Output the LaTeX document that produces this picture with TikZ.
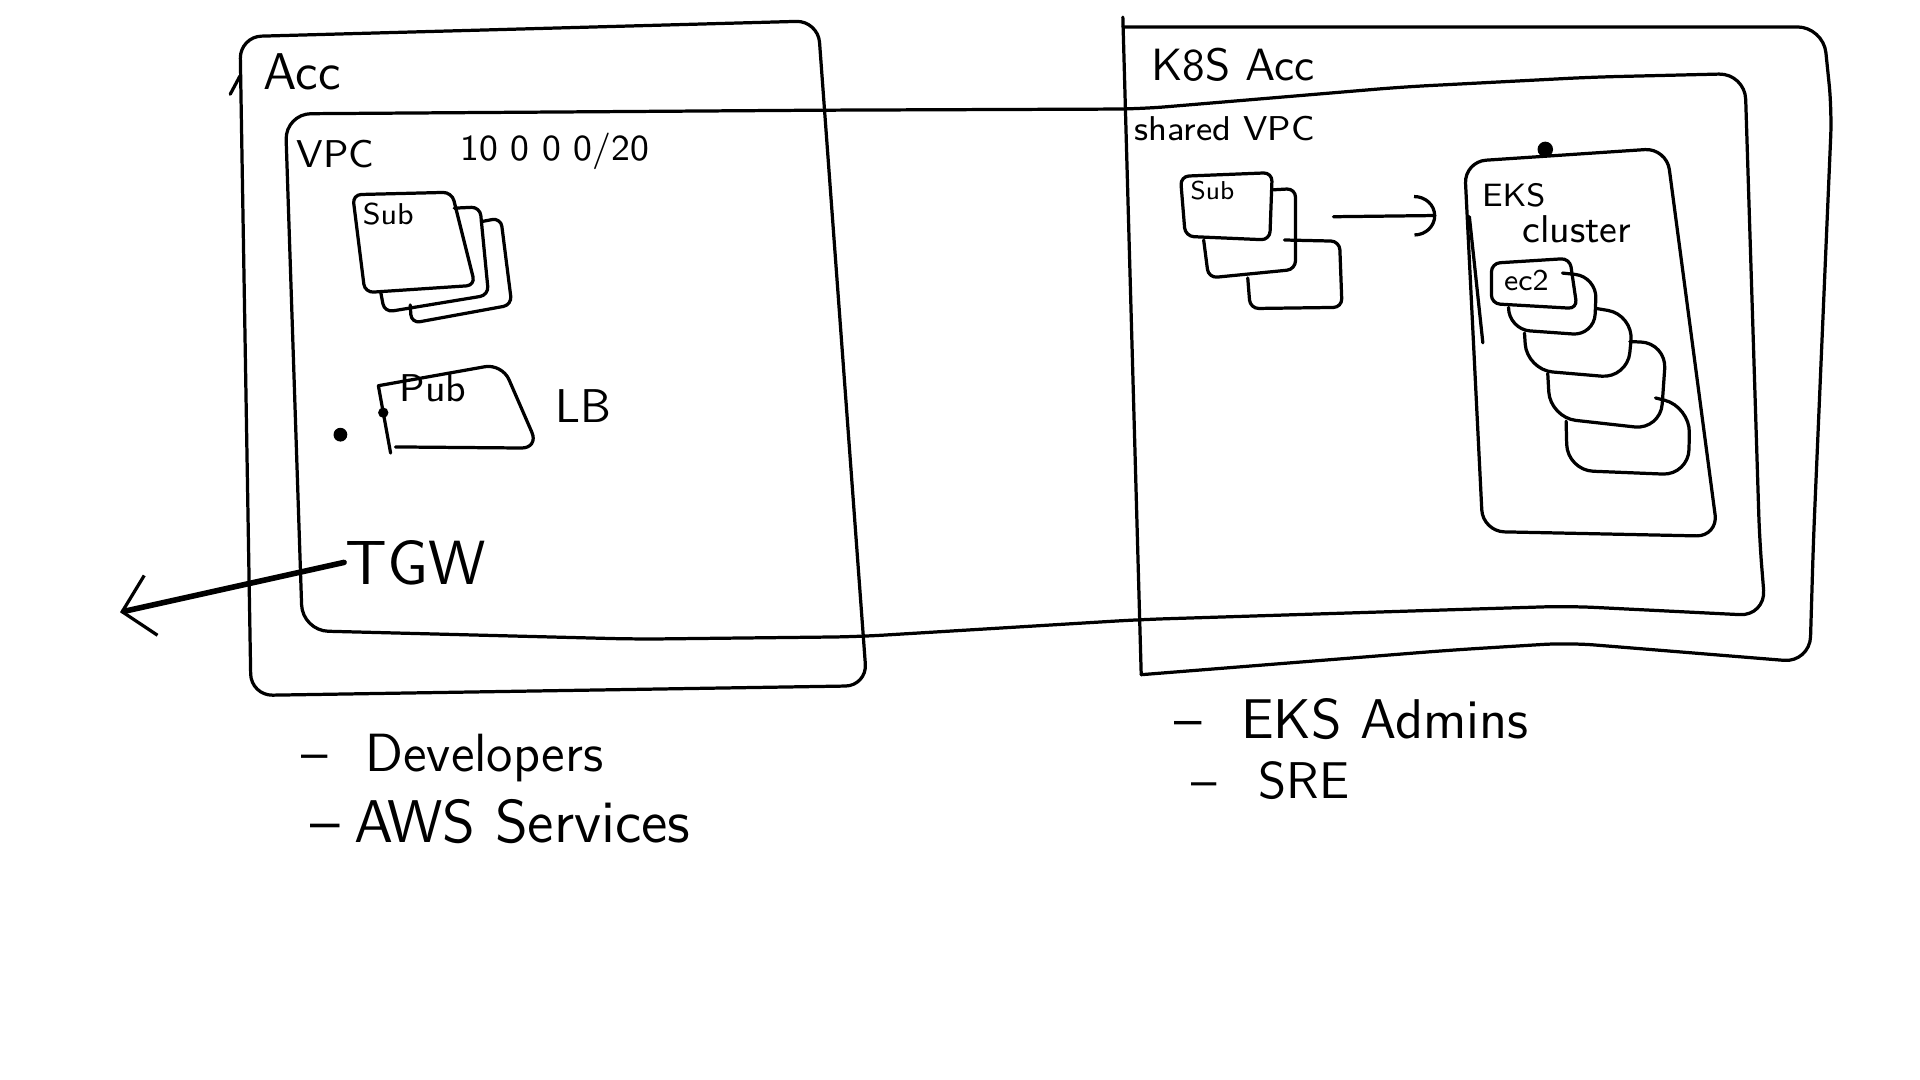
\documentclass[tikz,border=0pt]{standalone}
\usepackage{fontspec}
\usetikzlibrary{arrows.meta,positioning}
\begin{document}
\begin{tikzpicture}[x=0.01cm, y=-0.01cm, line width=0.75pt, line join=round, line cap=round,
    lbl/.style={font=\sffamily\fontsize{#1}{#1}\selectfont, inner sep=0pt, anchor=base west},
    card/.style={rounded corners=2pt},
    link/.style={-{Arc Barb[length=1.8mm,width=3.4mm]}},
    egress/.style={line width=1.3pt, -{Straight Barb[length=2.4mm,width=5mm,line width=0.75pt]}}]
    \useasboundingbox (0,0) rectangle (1568,882);

    % Acc
    \draw[rounded corners=5pt] (196,30) -- (668,17) -- (708,560) -- (205,568) -- cycle;
    \draw (188,77) -- (196,62);
    \node[lbl=12] (acc) at (214,73) {Acc};

    % VPC, running into the K8S account
    \draw[rounded corners=6pt] (233,93) -- (668,90) -- (931,89) -- (1146,71) -- (1300,63) -- (1425,60)
        -- (1437,441) -- (1442,503) -- (1281,495) -- (1184,498) -- (931,506) -- (700,520) -- (520,522) -- (247,515) -- cycle;
    \node[lbl=9] (vpc) at (241,137) {VPC};
    \node[lbl=8.5] (cidr) at (375,131) {10 0 0 0/20};

    % Subnets
    \draw[card] (288,159) -- (369,157) -- (388,233) -- (298,239) -- cycle;
    \draw[card] (371,170) -- (392,169) -- (399,241) -- (314,255) -- (311,239);
    \draw[card] (393,181) -- (409,178) -- (418,249) -- (336,264) -- (335,249);
    \node[lbl=7] (sub) at (295,183) {Sub};

    % Public subnet / LB
    \draw[rounded corners=4pt] (309,315) -- (410,297) -- (440,366) -- (323,365);
    \draw (309,315) -- (319,370);
    \fill (278,355) circle[radius=1.6pt] (313,337) circle[radius=1.2pt];
    \node[lbl=9] (pub) at (325,328) {Pub};
    \node[lbl=11] (lb) at (452,345) {LB};

    % TGW
    \node[lbl=14.5] (tgw) at (281,477) {TGW};
    \coordinate (out) at (98,500);
    \draw[egress] (tgw.west) -- (out);

    % K8S Acc
    \draw[rounded corners=6pt] (917,22) -- (1489,22) -- (1496,90) -- (1481,441) -- (1478,541) -- (1281,525) -- (1184,531) -- (932,551);
    \draw (917,14) -- (932,551);
    \node[lbl=10.5] (k8s) at (939,66) {K8S Acc};
    \node[lbl=8] (shared) at (925,115) {shared VPC};

    \draw[card] (964,144) -- (1039,141) -- (1037,196) -- (968,193) -- cycle;
    \draw[card] (1040,155) -- (1058,154) -- (1058,220) -- (987,227) -- (983,196);
    \draw[card] (1049,196) -- (1094,197) -- (1096,251) -- (1021,252) -- (1019,227);
    \node[lbl=6] (subk) at (971,163) {Sub};

    \coordinate (tail) at (1089,177);
    \coordinate (head) at (1173,176);
    \draw[link] (tail) -- (head);

    % EKS cluster
    \draw[rounded corners=5pt] (1196,132) -- (1361,121) -- (1403,438) -- (1211,434) -- cycle;
    \draw (1200,177) -- (1211,280);
    \fill (1262,122) circle[radius=1.8pt];
    \node[lbl=7.5] (eks) at (1209,169) {EKS};
    \node[lbl=9] (cluster) at (1242,198) {cluster};

    \draw[card] (1218,215) -- (1282,211) -- (1288,252) -- (1218,248) -- cycle;
    \draw[rounded corners=5pt] (1276,223) -- (1304,226) -- (1302,274) -- (1232,269) -- (1232,251);
    \draw[rounded corners=6pt] (1304,252) -- (1334,257) -- (1329,309) -- (1247,302) -- (1245,272);
    \draw[rounded corners=6pt] (1331,279) -- (1361,280) -- (1356,351) -- (1266,341) -- (1264,305);
    \draw[rounded corners=6pt] (1352,325) -- (1380,332) -- (1379,388) -- (1280,384) -- (1279,344);
    \node[lbl=7] (ec2) at (1227,237) {ec2};

    % Who uses what
    \node[lbl=12.5] (devs) at (245,630) {\textendash\hspace{0.7em}Developers};
    \node[lbl=14] (aws) at (252,688) {\textendash\hspace{0.25em}AWS Services};
    \node[lbl=13] (admins) at (958,603) {\textendash\hspace{0.7em}EKS Admins};
    \node[lbl=12] (sre) at (972,652) {\textendash\hspace{0.8em}SRE};

\end{tikzpicture}
\end{document}
